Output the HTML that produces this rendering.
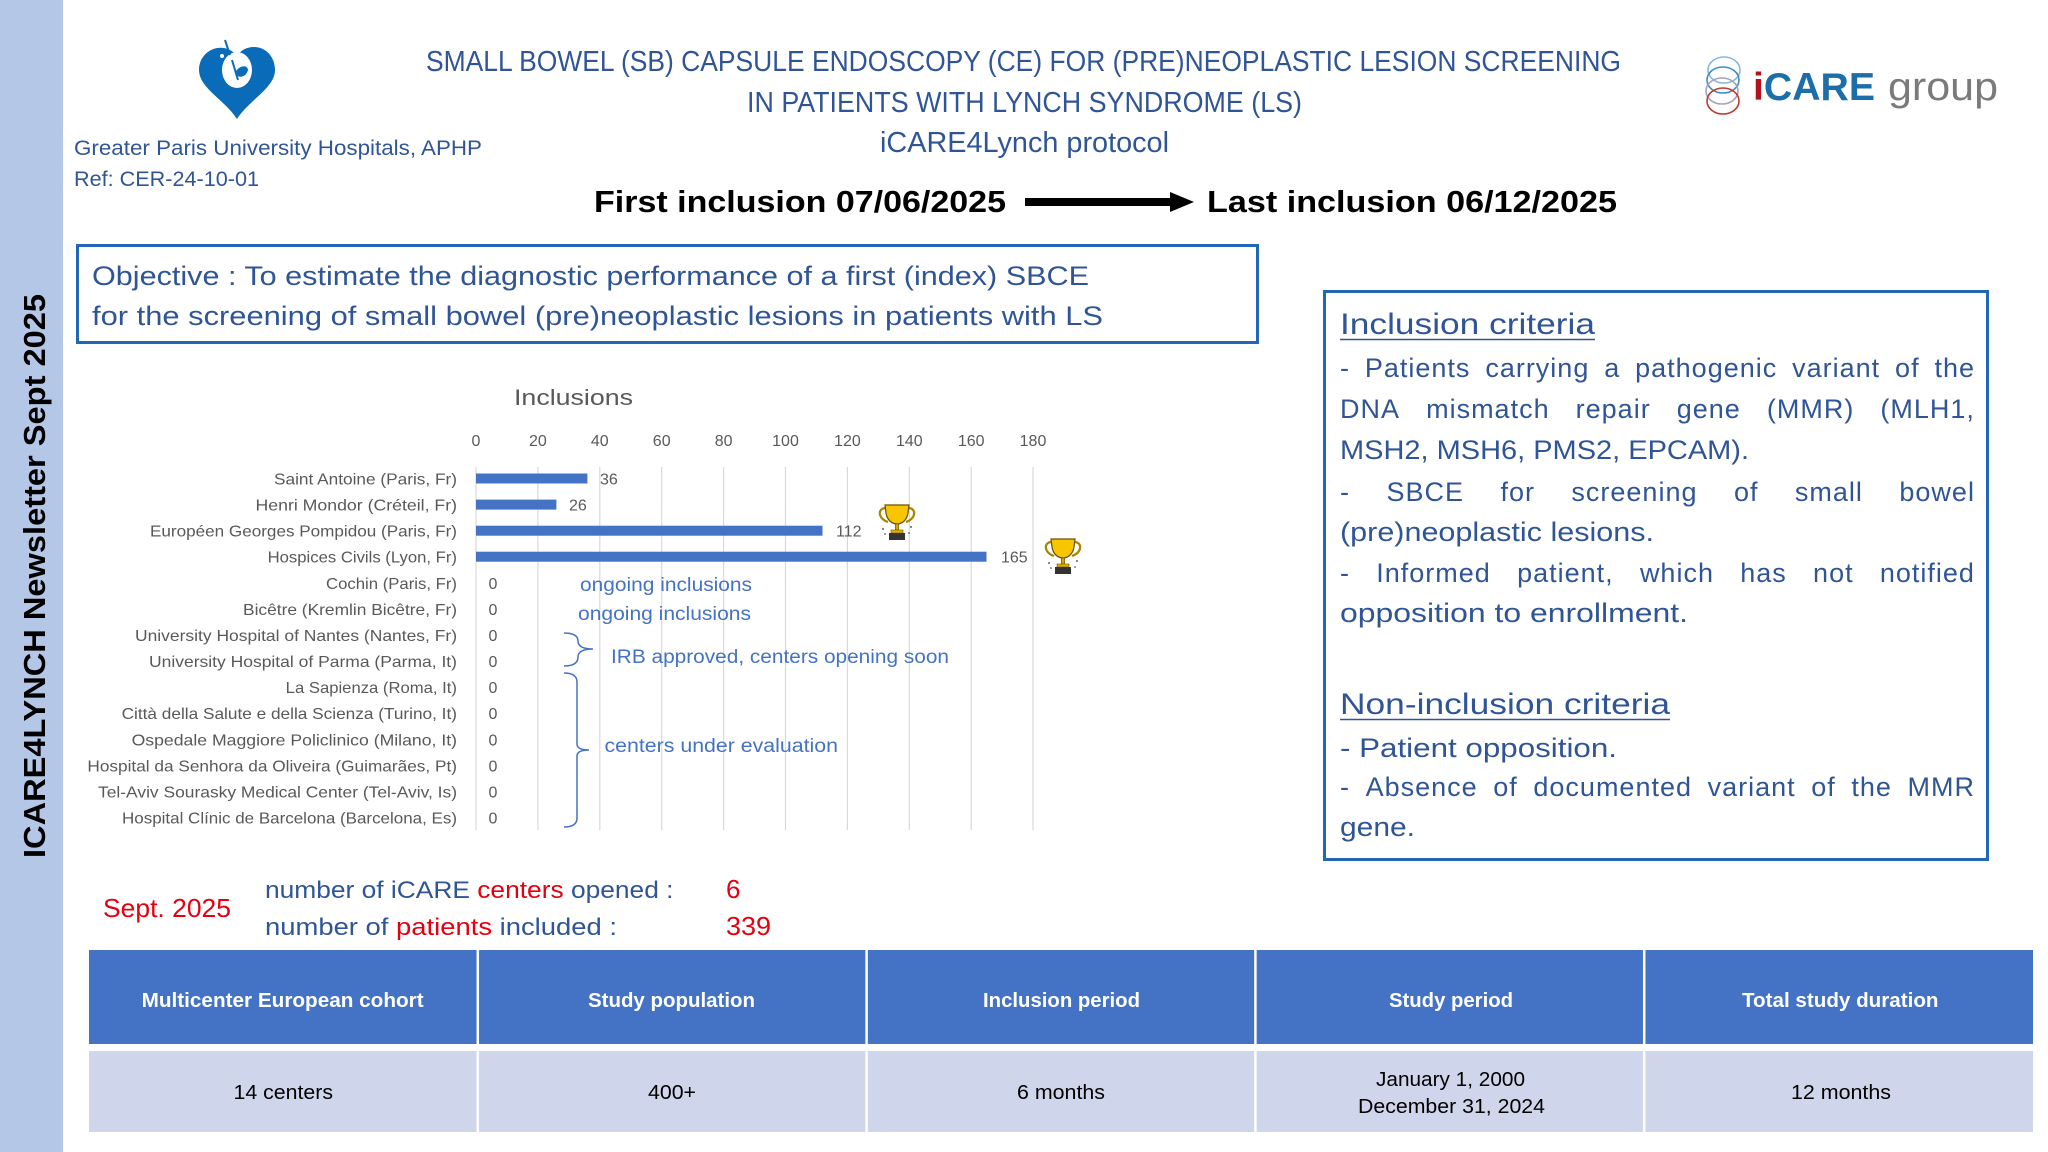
<!DOCTYPE html>
<html>
<head>
<meta charset="utf-8">
<style>
  html,body{margin:0;padding:0;background:#fff;}
  #wrap{position:relative;width:2048px;height:1152px;overflow:hidden;background:#fff;font-family:"Liberation Sans",sans-serif;}
  svg{position:absolute;left:0;top:0;}
  .jl{position:absolute;left:1340px;width:635px;height:30px;line-height:30px;font-size:27px;letter-spacing:1px;color:#2f5597;display:flex;justify-content:space-between;white-space:nowrap;font-family:"Liberation Sans",sans-serif;}
</style>
</head>
<body>
<div id="wrap">
<svg width="2048" height="1152" viewBox="0 0 2048 1152" xmlns="http://www.w3.org/2000/svg" font-family="'Liberation Sans', sans-serif">
  <!-- sidebar -->
  <rect x="0" y="0" width="63" height="1152" fill="#b4c7e7"/>
  <text transform="translate(45,576) rotate(-90)" text-anchor="middle" font-size="31" font-weight="bold" fill="#000" textLength="564" lengthAdjust="spacingAndGlyphs">ICARE4LYNCH Newsletter Sept 2025</text>

  <!-- APHP logo -->
  <path d="M237,119 C225,100 199,88 199,70 C199,55 212,46 224,48 C230,49 235,53 237,56 C240,51 246,47 254,47 C266,47 275,57 275,70 C275,88 249,100 237,119 Z" fill="#0a6cb8"/>
  <ellipse cx="237" cy="70" rx="15" ry="18" fill="#fff"/>
  <path d="M232,60 L238,80 M236,73 C240,66 247,66 247,70 C245,77 238,77 236,73 Z" stroke="#0a6cb8" stroke-width="2" fill="#0a6cb8"/>
  <line x1="225" y1="40" x2="230" y2="55" stroke="#0a6cb8" stroke-width="2"/>
  <circle cx="222" cy="56" r="2" fill="#fff"/>

  <text x="74" y="155" font-size="21" fill="#2f5597" textLength="408" lengthAdjust="spacingAndGlyphs">Greater Paris University Hospitals, APHP</text>
  <text x="74" y="186" font-size="21" fill="#2f5597" textLength="185" lengthAdjust="spacingAndGlyphs">Ref: CER-24-10-01</text>

  <!-- title -->
  <text x="426" y="71" font-size="29" fill="#2f5597" textLength="1195" lengthAdjust="spacingAndGlyphs">SMALL BOWEL (SB) CAPSULE ENDOSCOPY (CE) FOR (PRE)NEOPLASTIC LESION SCREENING</text>
  <text x="747" y="112" font-size="29" fill="#2f5597" textLength="555" lengthAdjust="spacingAndGlyphs">IN PATIENTS WITH LYNCH SYNDROME (LS)</text>
  <text x="880" y="152" font-size="29" fill="#2f5597" textLength="289" lengthAdjust="spacingAndGlyphs">iCARE4Lynch protocol</text>

  <text x="594" y="212" font-size="31" font-weight="bold" fill="#000" textLength="412" lengthAdjust="spacingAndGlyphs">First inclusion 07/06/2025</text>
  <rect x="1025" y="198" width="150" height="8" fill="#000"/>
  <polygon points="1170,192 1194,202 1170,212" fill="#000"/>
  <text x="1207" y="212" font-size="31" font-weight="bold" fill="#000" textLength="410" lengthAdjust="spacingAndGlyphs">Last inclusion 06/12/2025</text>

  <!-- iCARE group logo -->
  <g fill="none" stroke-width="1.6">
    <ellipse cx="1724" cy="70" rx="16" ry="13" stroke="#8ab8dc"/>
    <ellipse cx="1723" cy="80" rx="16" ry="13" stroke="#3c8dc5"/>
    <ellipse cx="1722" cy="91" rx="16" ry="13" stroke="#a4a4b8"/>
    <ellipse cx="1723" cy="101" rx="16" ry="13" stroke="#c0392b"/>
  </g>
  <text x="1753" y="100" font-size="39" font-weight="bold" textLength="122" lengthAdjust="spacingAndGlyphs"><tspan fill="#b5121b">i</tspan><tspan fill="#1b6ea8">CARE</tspan></text>
  <text x="1888" y="100" font-size="40" fill="#7a7a7a" textLength="110" lengthAdjust="spacingAndGlyphs">group</text>

  <!-- objective box -->
  <rect x="77.5" y="245.5" width="1180" height="97" fill="none" stroke="#2267b5" stroke-width="3"/>
  <text x="92" y="285" font-size="27" fill="#2f5597" textLength="997" lengthAdjust="spacingAndGlyphs">Objective : To estimate the diagnostic performance of a first (index) SBCE</text>
  <text x="92" y="325" font-size="27" fill="#2f5597" textLength="1011" lengthAdjust="spacingAndGlyphs">for the screening of small bowel (pre)neoplastic lesions in patients with LS</text>

  <!-- chart -->
  <text x="514" y="405" font-size="22" fill="#595959" textLength="119" lengthAdjust="spacingAndGlyphs">Inclusions</text>
  <g stroke="#d9d9d9" stroke-width="1.2">
    <line x1="476" y1="467" x2="476" y2="830"/>
    <line x1="537.9" y1="467" x2="537.9" y2="830"/>
    <line x1="599.8" y1="467" x2="599.8" y2="830"/>
    <line x1="661.7" y1="467" x2="661.7" y2="830"/>
    <line x1="723.6" y1="467" x2="723.6" y2="830"/>
    <line x1="785.5" y1="467" x2="785.5" y2="830"/>
    <line x1="847.4" y1="467" x2="847.4" y2="830"/>
    <line x1="909.3" y1="467" x2="909.3" y2="830"/>
    <line x1="971.2" y1="467" x2="971.2" y2="830"/>
    <line x1="1033" y1="467" x2="1033" y2="830"/>
  </g>
  <g font-size="16" fill="#595959" text-anchor="middle">
    <text x="476" y="446">0</text>
    <text x="537.9" y="446">20</text>
    <text x="599.8" y="446">40</text>
    <text x="661.7" y="446">60</text>
    <text x="723.6" y="446">80</text>
    <text x="785.5" y="446">100</text>
    <text x="847.4" y="446">120</text>
    <text x="909.3" y="446">140</text>
    <text x="971.2" y="446">160</text>
    <text x="1033" y="446">180</text>
  </g>
  <g font-size="16" fill="#595959">
    <text x="274" y="484.5" textLength="183" lengthAdjust="spacingAndGlyphs">Saint Antoine (Paris, Fr)</text>
    <text x="255.5" y="510.6" textLength="201.5" lengthAdjust="spacingAndGlyphs">Henri Mondor (Créteil, Fr)</text>
    <text x="150" y="536.7" textLength="307" lengthAdjust="spacingAndGlyphs">Européen Georges Pompidou (Paris, Fr)</text>
    <text x="267.6" y="562.7" textLength="189.4" lengthAdjust="spacingAndGlyphs">Hospices Civils (Lyon, Fr)</text>
    <text x="326" y="588.8" textLength="131" lengthAdjust="spacingAndGlyphs">Cochin (Paris, Fr)</text>
    <text x="243" y="614.9" textLength="214" lengthAdjust="spacingAndGlyphs">Bicêtre (Kremlin Bicêtre, Fr)</text>
    <text x="135" y="641" textLength="322" lengthAdjust="spacingAndGlyphs">University Hospital of Nantes (Nantes, Fr)</text>
    <text x="149" y="667.1" textLength="308" lengthAdjust="spacingAndGlyphs">University Hospital of Parma (Parma, It)</text>
    <text x="285.7" y="693.1" textLength="171.3" lengthAdjust="spacingAndGlyphs">La Sapienza (Roma, It)</text>
    <text x="121.6" y="719.2" textLength="335.4" lengthAdjust="spacingAndGlyphs">Città della Salute e della Scienza (Turino, It)</text>
    <text x="131.6" y="745.3" textLength="325.4" lengthAdjust="spacingAndGlyphs">Ospedale Maggiore Policlinico (Milano, It)</text>
    <text x="87.4" y="771.4" textLength="369.6" lengthAdjust="spacingAndGlyphs">Hospital da Senhora da Oliveira (Guimarães, Pt)</text>
    <text x="98" y="797.5" textLength="359" lengthAdjust="spacingAndGlyphs">Tel-Aviv Sourasky Medical Center (Tel-Aviv, Is)</text>
    <text x="122" y="823.5" textLength="335" lengthAdjust="spacingAndGlyphs">Hospital Clínic de Barcelona (Barcelona, Es)</text>
  </g>
  <g fill="#4472c4">
    <rect x="476" y="473.5" width="111.4" height="10"/>
    <rect x="476" y="499.6" width="80.4" height="10"/>
    <rect x="476" y="525.7" width="346.5" height="10"/>
    <rect x="476" y="551.7" width="510.5" height="10"/>
  </g>
  <g font-size="16" fill="#595959">
    <text x="600" y="484.5">36</text>
    <text x="569" y="510.6">26</text>
    <text x="836" y="536.7">112</text>
    <text x="1001" y="562.7">165</text>
    <text x="488.5" y="588.8">0</text>
    <text x="488.5" y="614.9">0</text>
    <text x="488.5" y="641">0</text>
    <text x="488.5" y="667.1">0</text>
    <text x="488.5" y="693.1">0</text>
    <text x="488.5" y="719.2">0</text>
    <text x="488.5" y="745.3">0</text>
    <text x="488.5" y="771.4">0</text>
    <text x="488.5" y="797.5">0</text>
    <text x="488.5" y="823.5">0</text>
  </g>

  <!-- trophies -->
  <defs>
    <g id="trophy">
      <path d="M9,5 C0,5 1,16 11,19" fill="none" stroke="#a98400" stroke-width="2.2"/>
      <path d="M31,5 C40,5 39,16 29,19" fill="none" stroke="#a98400" stroke-width="2.2"/>
      <path d="M8,2 L32,2 L31,10 C30,17 25,21 20,21 C15,21 10,17 9,10 Z" fill="#f7c600" stroke="#6b5000" stroke-width="1.2"/>
      <rect x="18.3" y="21" width="3.4" height="6" fill="#d4a800" stroke="#6b5000" stroke-width="0.6"/>
      <rect x="14" y="27" width="12" height="3" fill="#e0b000" stroke="#6b5000" stroke-width="0.6"/>
      <rect x="12" y="30" width="16" height="7" fill="#333"/>
      <circle cx="6" cy="26" r="0.9" fill="#333"/>
      <circle cx="34" cy="24" r="0.9" fill="#333"/>
      <circle cx="8" cy="31" r="0.8" fill="#333"/>
      <circle cx="32" cy="30" r="0.8" fill="#333"/>
    </g>
  </defs>
  <use href="#trophy" x="877" y="503"/>
  <use href="#trophy" x="1043" y="537"/>

  <!-- annotations -->
  <g font-size="19" fill="#4472c4">
    <text x="580" y="591" textLength="172" lengthAdjust="spacingAndGlyphs">ongoing inclusions</text>
    <text x="578" y="620" textLength="173" lengthAdjust="spacingAndGlyphs">ongoing inclusions</text>
    <text x="611" y="663" textLength="338" lengthAdjust="spacingAndGlyphs">IRB approved, centers opening soon</text>
    <text x="604.5" y="752" textLength="233.5" lengthAdjust="spacingAndGlyphs">centers under evaluation</text>
  </g>
  <g fill="none" stroke="#4472c4" stroke-width="1.5">
    <path d="M564,633 Q578,633 578,641 Q578,649 593,649 Q578,649 578,657 Q578,666 564,666"/>
    <path d="M564,673 Q577,673 577,682 L577,744 Q577,750 589,750 Q577,750 577,756 L577,818 Q577,827 564,827"/>
  </g>

  <!-- criteria box -->
  <rect x="1324.5" y="291.5" width="663" height="568" fill="none" stroke="#2267b5" stroke-width="3"/>
  <text x="1340" y="334" font-size="30" fill="#2f5597" textLength="255" lengthAdjust="spacingAndGlyphs">Inclusion criteria</text>
  <line x1="1340" y1="339.5" x2="1595" y2="339.5" stroke="#2f5597" stroke-width="1.5"/>
  <g font-size="27" fill="#2f5597">
    <text x="1340" y="459" textLength="409" lengthAdjust="spacingAndGlyphs">MSH2, MSH6, PMS2, EPCAM).</text>
    <text x="1340" y="541" textLength="314" lengthAdjust="spacingAndGlyphs">(pre)neoplastic lesions.</text>
    <text x="1340" y="622" textLength="348" lengthAdjust="spacingAndGlyphs">opposition to enrollment.</text>
    <text x="1340" y="757" textLength="277" lengthAdjust="spacingAndGlyphs">- Patient opposition.</text>
    <text x="1340" y="836" textLength="75" lengthAdjust="spacingAndGlyphs">gene.</text>
  </g>
  <text x="1340" y="714" font-size="30" fill="#2f5597" textLength="330" lengthAdjust="spacingAndGlyphs">Non-inclusion criteria</text>
  <line x1="1340" y1="719.5" x2="1670" y2="719.5" stroke="#2f5597" stroke-width="1.5"/>

  <!-- Sept block -->
  <text x="103" y="917" font-size="26" fill="#e3000f" textLength="128" lengthAdjust="spacingAndGlyphs">Sept. 2025</text>
  <text x="265" y="898" font-size="24" fill="#2f5597" textLength="408.5" lengthAdjust="spacingAndGlyphs">number of iCARE <tspan fill="#e3000f">centers</tspan> opened :</text>
  <text x="265" y="935" font-size="24" fill="#2f5597" textLength="352" lengthAdjust="spacingAndGlyphs">number of <tspan fill="#e3000f">patients</tspan> included :</text>
  <text x="726" y="898" font-size="26" fill="#e3000f">6</text>
  <text x="726" y="935" font-size="26" fill="#e3000f" textLength="45" lengthAdjust="spacingAndGlyphs">339</text>

  <!-- table -->
  <rect x="89" y="950" width="1944" height="94" fill="#4472c4"/>
  <rect x="89" y="1051" width="1944" height="81" fill="#cfd5ea"/>
  <g stroke="#fff" stroke-width="2.5">
    <line x1="477.8" y1="948" x2="477.8" y2="1134"/>
    <line x1="866.6" y1="948" x2="866.6" y2="1134"/>
    <line x1="1255.4" y1="948" x2="1255.4" y2="1134"/>
    <line x1="1644.2" y1="948" x2="1644.2" y2="1134"/>
  </g>
  <g font-size="20" font-weight="bold" fill="#fff">
    <text x="141.6" y="1007" textLength="282" lengthAdjust="spacingAndGlyphs">Multicenter European cohort</text>
    <text x="588" y="1007" textLength="167" lengthAdjust="spacingAndGlyphs">Study population</text>
    <text x="983" y="1007" textLength="157" lengthAdjust="spacingAndGlyphs">Inclusion period</text>
    <text x="1389" y="1007" textLength="124" lengthAdjust="spacingAndGlyphs">Study period</text>
    <text x="1742" y="1007" textLength="196.5" lengthAdjust="spacingAndGlyphs">Total study duration</text>
  </g>
  <g font-size="20" fill="#000">
    <text x="233.5" y="1099" textLength="99.5" lengthAdjust="spacingAndGlyphs">14 centers</text>
    <text x="648" y="1099" textLength="48" lengthAdjust="spacingAndGlyphs">400+</text>
    <text x="1017" y="1099" textLength="88" lengthAdjust="spacingAndGlyphs">6 months</text>
    <text x="1376" y="1086" textLength="149" lengthAdjust="spacingAndGlyphs">January 1, 2000</text>
    <text x="1358" y="1113" textLength="187" lengthAdjust="spacingAndGlyphs">December 31, 2024</text>
    <text x="1791" y="1099" textLength="100" lengthAdjust="spacingAndGlyphs">12 months</text>
  </g>
</svg>

<!-- justified criteria lines -->
<div class="jl" style="top:352.6px"><span>-</span><span>Patients</span><span>carrying</span><span>a</span><span>pathogenic</span><span>variant</span><span>of</span><span>the</span></div>
<div class="jl" style="top:393.6px"><span>DNA</span><span>mismatch</span><span>repair</span><span>gene</span><span>(MMR)</span><span>(MLH1,</span></div>
<div class="jl" style="top:476.6px"><span>-</span><span>SBCE</span><span>for</span><span>screening</span><span>of</span><span>small</span><span>bowel</span></div>
<div class="jl" style="top:557.6px"><span>-</span><span>Informed</span><span>patient,</span><span>which</span><span>has</span><span>not</span><span>notified</span></div>
<div class="jl" style="top:771.6px"><span>-</span><span>Absence</span><span>of</span><span>documented</span><span>variant</span><span>of</span><span>the</span><span>MMR</span></div>
</div>
</body>
</html>
